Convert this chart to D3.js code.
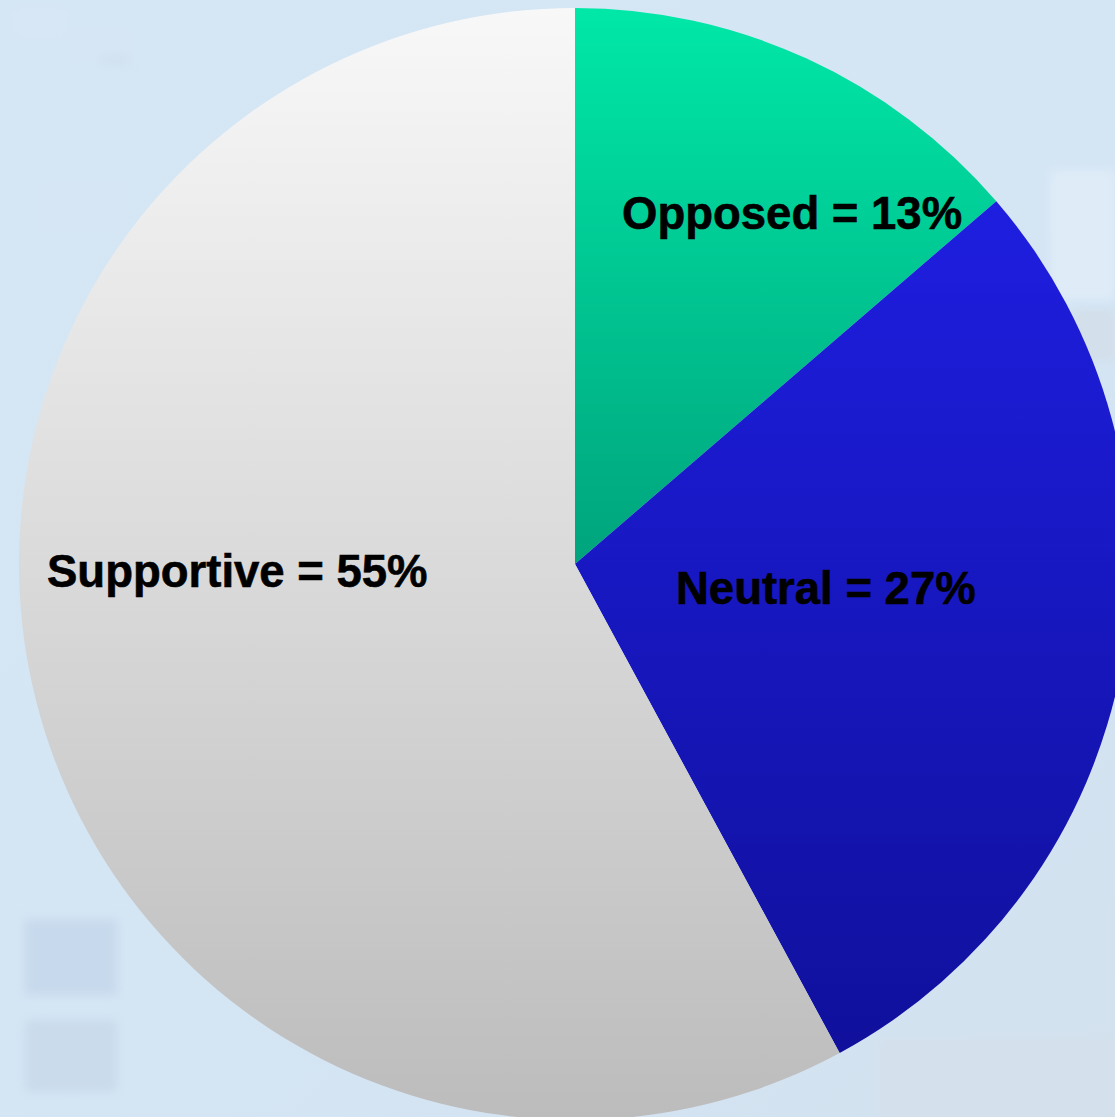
<!DOCTYPE html>
<html>
<head>
<meta charset="utf-8">
<script src="https://cdn.jsdelivr.net/npm/d3@7"></script>
<style>
  html, body { margin: 0; padding: 0; overflow: hidden; background: #d4e5f4; }
  svg { display: block; }
</style>
</head>
<body>
<svg id="chart" width="1115" height="1117"></svg>
<script>
// Attitude survey results
const categories = ["Opposed", "Neutral", "Supportive"];
const values = [13, 27, 55];
const labels = ["Opposed = 13%", "Neutral = 27%", "Supportive = 55%"];

const W = 1115, H = 1117;
const cx = 575, cy = 564, R = 556;

const svg = d3.select("#chart");
const defs = svg.append("defs");

// Backdrop: pale blue panel with faint, soft-edged tiles
const bg = defs.append("linearGradient").attr("id", "bg")
  .attr("x1", 0).attr("y1", 0).attr("x2", 1).attr("y2", 1);
bg.append("stop").attr("offset", "0%").attr("stop-color", "#d5e6f5");
bg.append("stop").attr("offset", "55%").attr("stop-color", "#d4e5f4");
bg.append("stop").attr("offset", "100%").attr("stop-color", "#d3e1ee");
svg.append("rect").attr("width", W).attr("height", H).attr("fill", "url(#bg)");

defs.append("filter").attr("id", "soft")
  .attr("x", "-20%").attr("y", "-20%").attr("width", "140%").attr("height", "140%")
  .append("feGaussianBlur").attr("stdDeviation", 5);

const tiles = [
  [12, 8, 55, 28, "#d8e7f5"], [70, 30, 60, 30, "#d7e6f4"], [100, 55, 30, 10, "#d1e1ef"],
  [40, 185, 85, 45, "#d7e6f4"],
  [25, 920, 92, 75, "#c7d9ec"], [25, 1020, 92, 72, "#cadbeb"],
  [1050, 170, 65, 130, "#dfecf8"], [1075, 310, 40, 50, "#d3dfea"],
  [880, 1040, 235, 77, "#d4e0eb"]
];
svg.append("g").attr("filter", "url(#soft)")
  .selectAll("rect").data(tiles).join("rect")
  .attr("x", d => d[0]).attr("y", d => d[1])
  .attr("width", d => d[2]).attr("height", d => d[3])
  .attr("fill", d => d[4]);

// Vertical gradient per slice
const fills = {
  Opposed: ["#00e8a8", "#00a47c"],
  Neutral: ["#1e1ee0", "#10109c"],
  Supportive: ["#f8f8f8", "#bcbcbc"]
};
categories.forEach(c => {
  const g = defs.append("linearGradient").attr("id", "g-" + c)
    .attr("x1", 0).attr("y1", 0).attr("x2", 0).attr("y2", 1);
  g.append("stop").attr("offset", "0%").attr("stop-color", fills[c][0]);
  g.append("stop").attr("offset", "100%").attr("stop-color", fills[c][1]);
});

const pie = d3.pie().sort(null).value(d => d.value);
const arcs = pie(categories.map((c, i) => ({ name: c, value: values[i], label: labels[i] })));
const arc = d3.arc().innerRadius(0).outerRadius(R);

const g = svg.append("g").attr("transform", `translate(${cx},${cy})`);
g.selectAll("path").data(arcs).join("path")
  .attr("d", arc)
  .attr("fill", d => `url(#g-${d.data.name})`);

// Label anchors (left edge of text, baseline) relative to the pie centre
const labelAnchor = {
  Opposed: [47, -335],
  Neutral: [101, 40],
  Supportive: [-528, 23]
};
g.selectAll("text").data(arcs).join("text")
  .attr("x", d => labelAnchor[d.data.name][0])
  .attr("y", d => labelAnchor[d.data.name][1])
  .attr("font-family", "'Liberation Sans', Arial, sans-serif")
  .attr("font-weight", "bold")
  .attr("font-size", 45.5)
  .attr("fill", "#000")
  .attr("stroke", "#000")
  .attr("stroke-width", 0.6)
  .text(d => d.data.label);
</script>
</body>
</html>
